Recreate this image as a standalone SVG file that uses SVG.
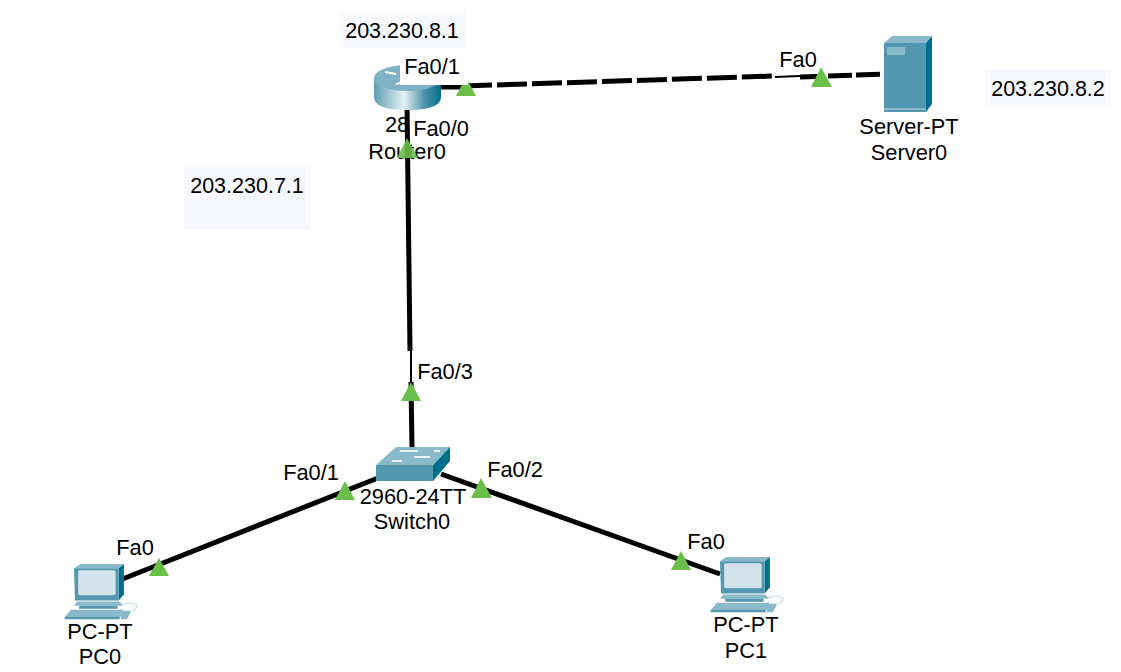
<svg xmlns="http://www.w3.org/2000/svg" width="1121" height="672" viewBox="0 0 1121 672">
<style>
text{font-family:"Liberation Sans",Arial,sans-serif;font-size:21.800px;fill:#000;text-anchor:middle}
.ip{font-size:21.500px}
.box{fill:#f8f9ff}
.w{fill:#fff}
.link{stroke:#000;stroke-width:5;fill:none}
.dash{stroke-dasharray:30 5}
.tri{fill:#6abf4b}
.lt{fill:#8ab9ca}
.mid{fill:#5397b0}
.dk{fill:#006f8c}
.scr{fill:#d3e3ec}
</style>
<defs>
<linearGradient id="rt" x1="0" x2="1" y1="0" y2="0">
<stop offset="0" stop-color="#5f9fb5"/><stop offset=".45" stop-color="#e4f0f4"/><stop offset=".75" stop-color="#4f93ab"/><stop offset="1" stop-color="#00708c"/>
</linearGradient>
<g id="pc">
<path class="lt" d="M0 5L6 1H48L43 5Z"/>
<path class="dk" d="M43 5L48 1V30L43 36Z"/>
<path class="mid" d="M0 5H43V36H1Z"/>
<path class="scr" d="M4 8Q4 7 6 7H38Q40 7 40 9V29Q40 31 38 31H7Q4 31 4 29Z"/>
<path class="lt" d="M3 37H44L47 41H0Z"/>
<path class="mid" d="M5 41H42V44H5Z"/>
<path class="lt" d="M-3 45H45L47 44V51L44 52H-9Z"/>
<path class="mid" d="M-9 52H44V54H-9Z"/>
<path class="lt" d="M46 46H55L51 54H45Z"/>
<path d="M46 40Q54 37 60 40Q62 43 56 46" fill="none" stroke="#c5d5dc" stroke-width="1"/>
</g>
</defs>
<rect width="1121" height="672" fill="#fff"/>
<g id="notes">
<rect class="box" x="339" y="11" width="126" height="37"/>
<text class="ip" x="402" y="38">203.230.8.1</text>
<rect class="box" x="985" y="69" width="126" height="37"/>
<text class="ip" x="1048" y="96">203.230.8.2</text>
<rect class="box" x="184" y="166" width="127" height="64"/>
<text class="ip" x="247" y="193">203.230.7.1</text>
</g>
<g id="node-labels">
<text x="397" y="132">28</text>
<text x="407" y="159">Router0</text>
<text x="909" y="134">Server-PT</text>
<text x="909" y="160">Server0</text>
<text x="413" y="504">2960-24TT</text>
<text x="412" y="529">Switch0</text>
<text x="100" y="639">PC-PT</text>
<text x="100" y="664">PC0</text>
<text x="746" y="632">PC-PT</text>
<text x="746" y="658">PC1</text>
</g>
<g id="connectors">
<path class="link" d="M407 105L410 351"/>
<path d="M411 351V382" stroke="#000" stroke-width="2" fill="none"/>
<path class="link" d="M411 382L412 448"/>
<path class="link" d="M438 87H462"/>
<path class="link dash" d="M462 86L775 76"/>
<path d="M775 77L800 76" stroke="#000" stroke-width="2" fill="none"/>
<path class="link" stroke-dasharray="24 4" d="M800 77L885 74"/>
<path class="link" d="M120 580L378 478"/>
<path class="link" d="M441 474L720 574"/>
</g>
<g id="Router0">
<path d="M374 78V97Q374 110 407 110Q441 110 441 97V78Z" fill="url(#rt)"/>
<ellipse cx="407.500" cy="78" rx="33.500" ry="13" fill="#7fb2c5"/>
<path d="M385 72L396 74M396 84L404 82" stroke="#fff" stroke-width="2"/>
</g>
<g id="Server0">
<path class="lt" d="M884 43L892 36H932L926 43Z"/>
<path class="dk" d="M926 43L932 36V104L926 112Z"/>
<path class="mid" d="M884 43H926V112H884Z"/>
<path class="lt" d="M887 47H905V55H887Z"/>
<path class="lt" d="M884 108H926V110H884Z"/>
</g>
<g id="Switch0">
<path class="lt" d="M376 465L396 447H450L433 465Z"/>
<path class="mid" d="M376 465H433V481H376Z"/>
<path class="dk" d="M433 465L450 447V461L433 481Z"/>
<path d="M400 451H418M434 451H440M392 461H402M414 457H430" stroke="#e8f1f4" stroke-width="2"/>
</g>
<use id="PC0" href="#pc" transform="translate(74 563) scale(1.04)"/>
<use id="PC1" href="#pc" transform="translate(720 556) scale(1.04)"/>
<g id="port-markers">
<path class="tri" d="M466 77L476 96H456Z"/>
<path class="tri" d="M821 67L832 87H811Z"/>
<path class="tri" d="M407 138L418 158H397Z" opacity=".9"/>
<path class="tri" d="M411 382L421 401H401Z"/>
<path class="tri" d="M345 481L355 500H335Z"/>
<path class="tri" d="M481 478L492 498H471Z"/>
<path class="tri" d="M159 558L169 576H149Z"/>
<path class="tri" d="M681 551L691 570H671Z"/>
</g>
<g id="port-labels">
<rect class="w" x="400" y="58" width="68" height="27"/>
<rect class="w" x="411" y="116" width="36" height="26"/>
<text x="432" y="74">Fa0/1</text>
<text x="441" y="136">Fa0/0</text>
<text x="798" y="67">Fa0</text>
<text x="445" y="379">Fa0/3</text>
<text x="311" y="480">Fa0/1</text>
<text x="515" y="477">Fa0/2</text>
<text x="135" y="555">Fa0</text>
<text x="706" y="549">Fa0</text>
</g>
</svg>
